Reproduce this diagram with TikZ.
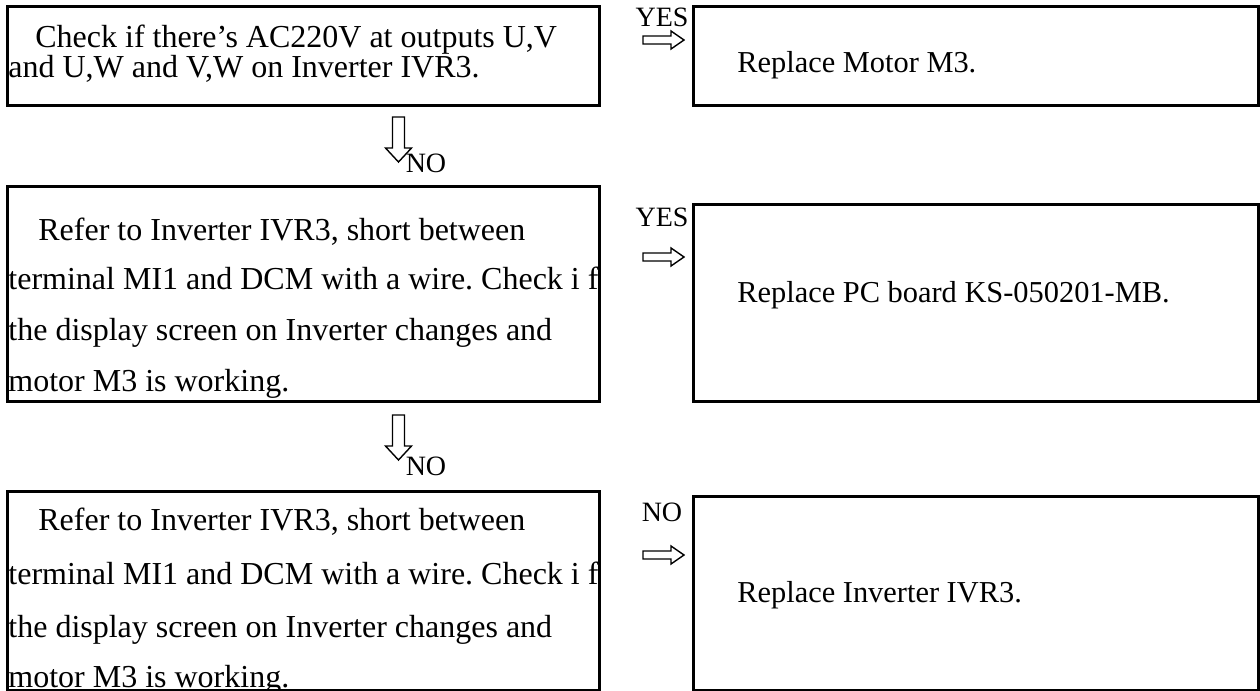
\documentclass[tikz,border=0pt]{standalone}
\usepackage{fontspec}
\setmainfont{Liberation Serif}
\frenchspacing
\begin{document}
\begin{tikzpicture}[x=0.5pt,y=-0.5pt,
  box/.style={draw, line width=1.5pt, inner sep=0pt, anchor=north west},
  txt/.style={inner sep=0pt, anchor=base west, font=\fontsize{16}{19}\selectfont},
  rtxt/.style={inner sep=0pt, anchor=base west, font=\fontsize{15.2}{19}\selectfont},
  lbl/.style={inner sep=0pt, anchor=base, font=\fontsize{14}{17}\selectfont},
  harrow/.style={draw, line width=0.7pt, fill=white},
]
\useasboundingbox (0,0) rectangle (1260,691);
% boxes
\node[box, minimum width=296pt, minimum height=49.5pt] (A) at (6,5) {};
\node[box, minimum width=282.5pt, minimum height=49.5pt] (B) at (692,5) {};
\node[box, minimum width=296pt, minimum height=107.5pt] (C) at (6,185) {};
\node[box, minimum width=282.5pt, minimum height=98.5pt] (D) at (692,203) {};
\node[box, minimum width=296pt, minimum height=99.5pt] (E) at (6,490) {};
\node[box, minimum width=282.5pt, minimum height=97pt] (F) at (692,495) {};
% texts
\node[txt] (a1) at (35,47) {Check if there’s AC220V at outputs U,V};
\node[txt] (a2) at (8,77) {and U,W and V,W on Inverter IVR3.};
\node[rtxt] (b1) at (737,72) {Replace Motor M3.};
\node[txt] (c1) at (38,240) {Refer to Inverter IVR3, short between};
\node[txt] (c2) at (8,289) {terminal MI1 and DCM with a wire. Check i f};
\node[txt] (c3) at (8,340) {the display screen on Inverter changes and};
\node[txt] (c4) at (8,391) {motor M3 is working.};
\node[rtxt] (d1) at (737,302) {Replace PC board KS-050201-MB.};
\node[txt] (e1) at (38,530) {Refer to Inverter IVR3, short between};
\node[txt] (e2) at (8,584) {terminal MI1 and DCM with a wire. Check i f};
\node[txt] (e3) at (8,637) {the display screen on Inverter changes and};
\node[txt] (e4) at (8,687) {motor M3 is working.};
\node[rtxt] (f1) at (737,602) {Replace Inverter IVR3.};
% labels
\node[lbl] (y1) at (662,26) {YES};
\node[lbl] (y2) at (662,226) {YES};
\node[lbl] (n3) at (662,521) {NO};
\node[lbl] (n1) at (426,172) {NO};
\node[lbl] (n2) at (426,475) {NO};
% right arrows
\foreach \yy/\nm in {40/r1, 257/r2, 555/r3}{
  \coordinate (\nm) at (643,\yy);
  \draw[harrow] (\nm) ++(0,-4) -- ++(28,0) -- ++(0,-5) -- ++(13,9) -- ++(-13,9) -- ++(0,-5) -- ++(-28,0) -- cycle;
}
% down arrows
\foreach \yy/\nm in {117/d1a, 415/d2a}{
  \coordinate (\nm) at (398.5,\yy);
  \draw[harrow] (\nm) ++(-6,0) -- ++(12,0) -- ++(0,31) -- ++(7,0) -- ++(-13,14) -- ++(-13,-14) -- ++(7,0) -- cycle;
}
\end{tikzpicture}
\end{document}
